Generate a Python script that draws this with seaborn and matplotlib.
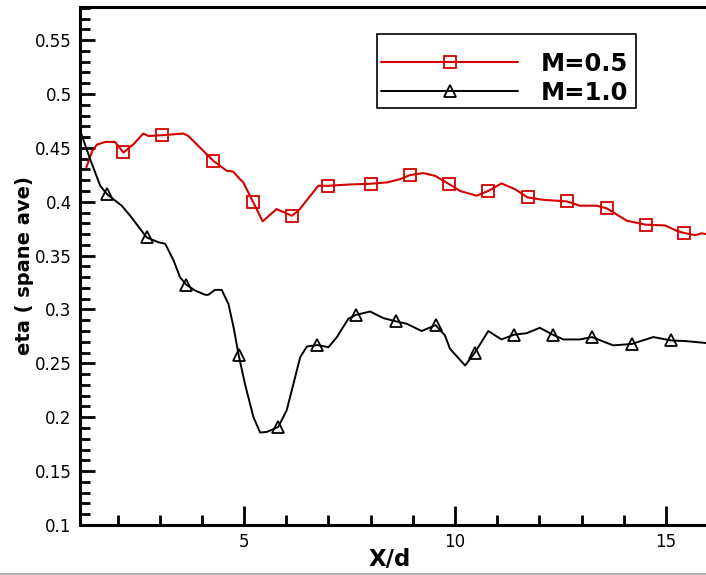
import numpy as np
import pandas as pd
import seaborn as sns
import matplotlib
matplotlib.use("Agg")
import matplotlib.pyplot as plt
from matplotlib.lines import Line2D
from matplotlib.patches import Rectangle
from matplotlib.ticker import MultipleLocator

# ---- data ----
x_m05 = [1.26, 1.40, 1.51, 1.71, 1.94, 2.14, 2.38, 2.61, 2.73, 3.05, 3.56, 3.68, 4.27, 4.59, 4.74,
         4.90, 4.98, 5.21, 5.44, 5.77, 6.13, 6.29, 6.76, 7.00, 7.50, 8.00, 8.40, 8.70, 8.93, 9.25,
         9.53, 9.86, 10.12, 10.51, 10.79, 11.10, 11.42, 11.72, 12.09, 12.65, 12.96, 13.36, 13.60,
         14.07, 14.52, 14.98, 15.25, 15.43, 15.69, 15.85, 15.95]
y_m05 = [0.432, 0.447, 0.453, 0.4555, 0.4555, 0.4457, 0.4534, 0.4633, 0.461, 0.4617, 0.4633, 0.461,
         0.438, 0.4287, 0.428, 0.421, 0.418, 0.400, 0.3818, 0.3932, 0.387, 0.3917, 0.4148, 0.4148,
         0.416, 0.4167, 0.418, 0.421, 0.4247, 0.4266, 0.424, 0.4164, 0.410, 0.4056, 0.410, 0.417,
         0.4117, 0.404, 0.4018, 0.4003, 0.3963, 0.3963, 0.3938, 0.3824, 0.3787, 0.378, 0.3731,
         0.371, 0.369, 0.3707, 0.370]
mx_m05 = [2.14, 3.05, 4.27, 5.21, 6.13, 7.00, 8.00, 8.93, 9.86, 10.79, 11.72, 12.65, 13.60, 14.52, 15.43]
my_m05 = [0.4457, 0.4617, 0.438, 0.400, 0.387, 0.4148, 0.4167, 0.4247, 0.4164, 0.410, 0.404, 0.4003,
          0.3938, 0.3787, 0.371]

x_m10 = [1.11, 1.35, 1.59, 1.75, 2.10, 2.30, 2.69, 2.97, 3.13, 3.33, 3.48, 3.63, 3.84, 4.08, 4.15,
         4.31, 4.47, 4.63, 4.75, 4.87, 5.02, 5.22, 5.38, 5.54, 5.81, 6.01, 6.17, 6.33, 6.49, 6.74,
         7.00, 7.20, 7.47, 7.65, 7.99, 8.30, 8.60, 8.86, 9.21, 9.54, 9.76, 9.88, 10.24, 10.47, 10.79,
         11.10, 11.40, 11.70, 12.01, 12.32, 12.57, 12.96, 13.25, 13.75, 14.19, 14.70, 15.12, 15.49, 15.95]
y_m10 = [0.4664, 0.4395, 0.4148, 0.407, 0.3963, 0.387, 0.3669, 0.3624, 0.361, 0.3454, 0.330, 0.3229,
         0.3176, 0.3136, 0.3136, 0.3182, 0.3182, 0.305, 0.2836, 0.258, 0.231, 0.2003, 0.1858, 0.1864,
         0.191, 0.2065, 0.231, 0.2558, 0.2657, 0.267, 0.265, 0.2744, 0.2914, 0.295, 0.2981, 0.292,
         0.289, 0.2867, 0.280, 0.2855, 0.276, 0.2636, 0.248, 0.260, 0.280, 0.2722, 0.2766, 0.278,
         0.283, 0.2766, 0.2722, 0.2722, 0.2744, 0.2667, 0.268, 0.2744, 0.2713, 0.2706, 0.2689]
mx_m10 = [1.75, 2.69, 3.63, 4.87, 5.81, 6.74, 7.65, 8.60, 9.54, 10.47, 11.40, 12.32, 13.25, 14.19, 15.12]
my_m10 = [0.407, 0.3669, 0.3229, 0.258, 0.191, 0.267, 0.295, 0.289, 0.2855, 0.260, 0.2766, 0.2766,
          0.2744, 0.268, 0.2713]

labels = ["M=0.5", "M=1.0"]
colors = ["#d40000", "#000000"]
ytick_vals = [0.1, 0.15, 0.2, 0.25, 0.3, 0.35, 0.4, 0.45, 0.5, 0.55]
ytick_labels = ["0.1", "0.15", "0.2", "0.25", "0.3", "0.35", "0.4", "0.45", "0.5", "0.55"]
xtick_vals = [5, 10, 15]
xtick_labels = ["5", "10", "15"]

# ---- style ----
sns.set_style("ticks")
plt.rcParams["font.family"] = ["DejaVu Sans"]
plt.rcParams["text.color"] = "black"
plt.rcParams["axes.labelcolor"] = "black"
plt.rcParams["xtick.color"] = "black"
plt.rcParams["ytick.color"] = "black"

W, H = 706, 575
fig = plt.figure(figsize=(W / 100, H / 100), dpi=100)
ax = fig.add_axes([80 / W, 50 / H, 626 / W, 518.3 / H])

df05 = pd.DataFrame({"x": x_m05, "y": y_m05})
df10 = pd.DataFrame({"x": x_m10, "y": y_m10})
sns.lineplot(data=df05, x="x", y="y", ax=ax, color=colors[0], lw=1.5, sort=False)
sns.lineplot(data=df10, x="x", y="y", ax=ax, color=colors[1], lw=1.4, sort=False)
ax.plot(mx_m05, my_m05, ls="none", marker="s", ms=8, mfc="none", mec=colors[0], mew=1.3)
ax.plot(mx_m10, my_m10, ls="none", marker="^", ms=8.5, mfc="none", mec=colors[1], mew=1.3)

ax.set_xlim(1.11, 15.95)
ax.set_ylim(0.1, 0.581)
ax.xaxis.set_minor_locator(MultipleLocator(1))
ax.yaxis.set_minor_locator(MultipleLocator(0.01))
ax.set_yticks(ytick_vals)
ax.set_yticklabels(ytick_labels)
ax.set_xticks(xtick_vals)
ax.set_xticklabels(xtick_labels)

ax.tick_params(axis="both", which="major", direction="in", length=11, width=2,
               labelsize=12, colors="black", pad=6)
ax.tick_params(axis="both", which="minor", direction="in", length=7, width=2)
ax.tick_params(axis="x", which="major", length=14, pad=6)
ax.tick_params(top=False, right=False, which="both")

for s in ["left", "bottom", "top"]:
    ax.spines[s].set_linewidth(2.2)
    ax.spines[s].set_color("black")
ax.spines["right"].set_visible(False)

ax.set_xlabel("X/d", fontsize=16.5, fontweight="bold", color="black")
ax.xaxis.set_label_coords(0.494, -0.067)
ax.xaxis.label.set_va("center")
ax.set_ylabel("eta ( spane ave)", fontsize=14, fontweight="bold", color="black", labelpad=0.5)

# legend box (frame) and legend entries
fig.add_artist(Rectangle((377 / W, 1 - 108 / H), (636 - 377) / W, 74 / H,
                         transform=fig.transFigure, fill=True, fc="white",
                         ec="black", lw=1.2, zorder=4))
handles = [
    Line2D([], [], color=colors[0], lw=1.5, marker="s", ms=8, mfc="none", mec=colors[0], mew=1.3),
    Line2D([], [], color=colors[1], lw=1.4, marker="^", ms=8.5, mfc="none", mec=colors[1], mew=1.3),
]
leg = fig.legend(handles, labels, loc="upper left", bbox_to_anchor=(381 / W, 1 - 52 / H),
                 bbox_transform=fig.transFigure,
                 prop={"weight": "bold", "size": 17.5}, frameon=False,
                 handlelength=5.64, handletextpad=0.95, labelspacing=0.2, borderpad=0,
                 borderaxespad=0)
leg.set_zorder(5)
for t in leg.get_texts():
    t.set_color("black")

fig.add_artist(Line2D([0, 1], [1.5 / H, 1.5 / H], transform=fig.transFigure,
                      color="#b4b4b4", lw=1.5))

fig.savefig("out.png", dpi=100)
